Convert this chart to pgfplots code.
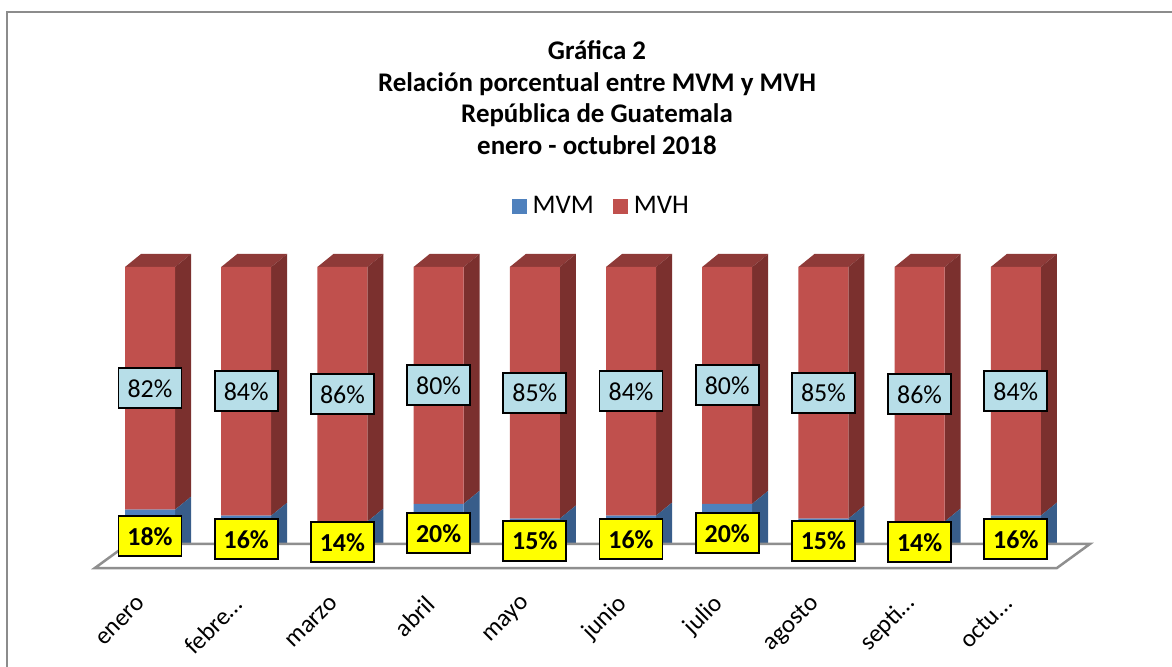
\documentclass[border=0pt]{standalone}
\usepackage{pgfplots}
\pgfplotsset{compat=1.18}
\usepackage{pgfplotstable}
\usepackage{fontspec}
\setmainfont{Carlito}
\definecolor{frontblue}{HTML}{4F81BD}
\definecolor{sideblue}{HTML}{385D8A}
\definecolor{frontred}{HTML}{C0504D}
\definecolor{sidered}{HTML}{7B302E}
\definecolor{topred}{HTML}{8E3A38}
\definecolor{lblblue}{HTML}{B7DEE8}
\definecolor{lblyellow}{HTML}{FFFF00}
\definecolor{framegray}{HTML}{8C8C8C}
\definecolor{floorgray}{HTML}{8F8F8F}

\pgfplotstableread{
idx mvm mvh
0 18 82
1 16 84
2 14 86
3 20 80
4 15 85
5 16 84
6 20 80
7 15 85
8 14 86
9 16 84
}\datatable

\tikzset{
  lblA/.style={draw=black, line width=1.8bp, fill=lblblue, minimum width=63bp, minimum height=40bp, inner sep=2bp, font=\fontsize{26}{26}\selectfont},
  lblB/.style={draw=black, line width=1.8bp, fill=lblyellow, minimum width=63bp, minimum height=40bp, inner sep=2bp, font=\fontsize{26}{26}\selectfont\bfseries},
}
\pgfplotsset{sqlegend/.style={legend image code/.code={\fill[##1] (0bp,-7.5bp) rectangle (15bp,7.5bp);}}}

\begin{document}
\begin{tikzpicture}
\useasboundingbox (0,0) rectangle (1172bp,667bp);
\draw[framegray, line width=2bp] (6.5bp,-10bp) -- (6.5bp,654.5bp) -- (1185bp,654.5bp);
\begin{scope}[every node/.style={font=\fontsize{27}{27}\selectfont\bfseries, anchor=base, inner sep=0pt}]
\node at (597bp,607.7bp) {Gráfica 2};
\node at (597bp,575.3bp) {Relación porcentual entre MVM y MVH};
\node at (597bp,544.3bp) {República de Guatemala};
\node at (597bp,512bp) {enero - octubrel 2018};
\end{scope}
\gdef\labelnodes{}
\begin{axis}[
  at={(101.9bp,104bp)}, anchor=south west,
  scale only axis, width=962bp, height=296bp,
  xmin=-0.5, xmax=9.5, ymin=0, ymax=100,
  clip=false,
  ybar stacked, bar width=50bp,
  axis line style={draw=none}, tick style={draw=none}, ytick=\empty,
  xtick={0,...,9},
  xticklabels={enero,febre…,marzo,abril,mayo,junio,julio,agosto,septi…,octu…},
  xticklabel style={xshift=-8bp, rotate=45, anchor=east, inner sep=0pt, font=\fontsize{25}{25}\selectfont},
  xticklabel shift=37bp,
  legend style={at={(0.519,1.206)}, anchor=center, draw=none, fill=none, legend columns=2,
    font=\fontsize{27}{27}\selectfont,
    /tikz/every odd column/.append style={column sep=4bp},
    /tikz/every even column/.append style={column sep=17bp}},
]
% floor
\draw[floorgray, line width=2.5bp, fill=white]
  ([xshift=-7bp,yshift=-5bp]axis cs:-0.5,0) -- ([xshift=-7bp,yshift=-5bp]axis cs:9.5,0)
  -- ([xshift=26bp,yshift=19bp]axis cs:9.5,0) -- ([xshift=26bp,yshift=19bp]axis cs:-0.5,0) -- cycle;
\addplot[fill=frontblue, draw=none, sqlegend] table[x=idx,y=mvm]{\datatable};
\addplot[fill=frontred, draw=none, sqlegend] table[x=idx,y=mvh]{\datatable};
\legend{MVM,MVH}
\pgfplotsinvokeforeach{0,...,9}{
  \pgfplotstablegetelem{#1}{mvm}\of\datatable \let\m\pgfplotsretval
  \pgfplotstablegetelem{#1}{mvh}\of\datatable \let\h\pgfplotsretval
  \pgfmathsetmacro\cm{\m/2}
  \pgfmathsetmacro\ch{\m+\h/2}
  \edef\temp{%
    \noexpand\fill[sideblue] ([xshift=25bp]axis cs:#1,0) -- ([xshift=41bp,yshift=13bp]axis cs:#1,0)
      -- ([xshift=41bp,yshift=13bp]axis cs:#1,\m) -- ([xshift=25bp]axis cs:#1,\m) -- cycle;
    \noexpand\fill[sidered] ([xshift=25bp]axis cs:#1,\m) -- ([xshift=41bp,yshift=13bp]axis cs:#1,\m)
      -- ([xshift=41bp,yshift=13bp]axis cs:#1,100) -- ([xshift=25bp]axis cs:#1,100) -- cycle;
    \noexpand\fill[topred] ([xshift=-25bp]axis cs:#1,100) -- ([xshift=25bp]axis cs:#1,100)
      -- ([xshift=41bp,yshift=13bp]axis cs:#1,100) -- ([xshift=-9bp,yshift=13bp]axis cs:#1,100) -- cycle;
    \noexpand\coordinate (lm#1) at (axis cs:#1,\cm);
    \noexpand\coordinate (lh#1) at (axis cs:#1,\ch);
  }\temp
  \xdef\labelnodes{\unexpanded\expandafter{\labelnodes}%
    \noexpand\node[lblB] at (lm#1) {\m\noexpand\%};%
    \noexpand\node[lblA] at (lh#1) {\h\noexpand\%};}
}
\end{axis}
\labelnodes
\end{tikzpicture}
\end{document}
